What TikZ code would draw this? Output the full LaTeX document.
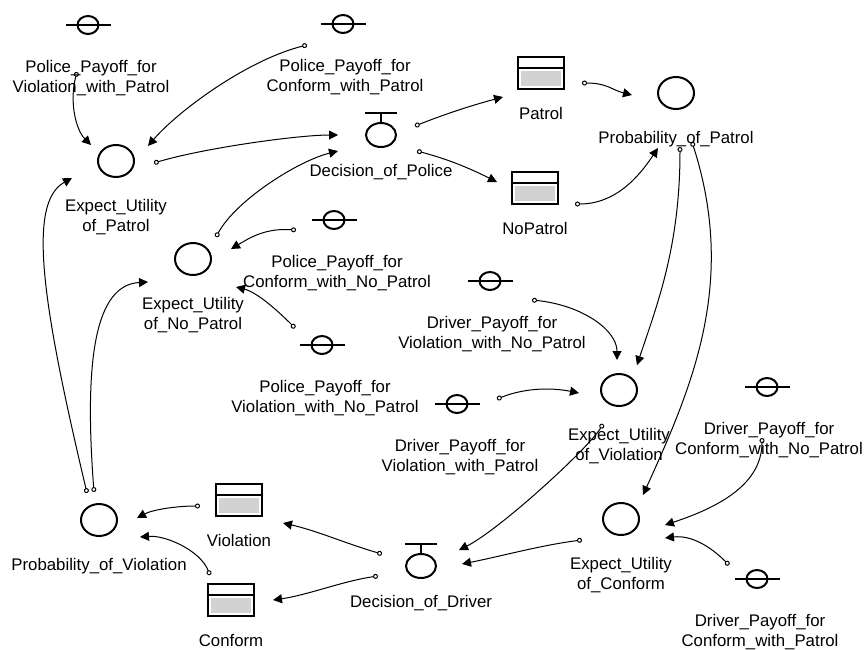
\documentclass[tikz,border=0pt]{standalone}
\usepackage{fontspec}
\setmainfont{Liberation Sans}
\usetikzlibrary{arrows.meta,positioning,shapes.geometric}

\tikzset{
  txt/.style={align=center, inner sep=0pt, font=\fontsize{16.8}{20.5}\selectfont},
  aux/.style={ellipse, draw, line width=2pt, minimum width=36pt, minimum height=32pt, inner sep=0pt},
  const/.style={ellipse, draw, line width=2pt, minimum width=21pt, minimum height=18pt, inner sep=0pt},
  decision/.style={ellipse, draw, line width=2pt, minimum width=30pt, minimum height=24pt, inner sep=0pt},
  stock/.style={rectangle, draw, line width=2pt, minimum width=46pt, minimum height=32pt, inner sep=0pt,
    path picture={
      \fill[gray!35] ([shift={(3pt,-14pt)}]path picture bounding box.north west) rectangle ([shift={(-3pt,3pt)}]path picture bounding box.south east);
      \draw[line width=2pt] ([yshift=-11pt]path picture bounding box.north west) -- ([yshift=-11pt]path picture bounding box.north east);
    }},
  link/.style={line width=1pt, {Circle[open,length=5pt,width=5pt]}-{Triangle[length=9pt,width=9pt]}},
}

\begin{document}
\begin{tikzpicture}[x=1pt, y=-1pt]
\useasboundingbox (0,0) rectangle (865,649);

% Constants

\node[const] (c1) at (88,25) {};
\node[const] (c2) at (343,24) {};
\node[const] (c3) at (334,220) {};
\node[const] (c4) at (322,345) {};
\node[const] (c5) at (490,281) {};
\node[const] (c6) at (457,404) {};
\node[const] (c7) at (767,387) {};
\node[const] (c8) at (757,579) {};

\foreach \c in {c1,c2,c3,c4,c5,c6,c7,c8}
  \draw[line width=2pt] ([xshift=-11pt]\c.west) -- ([xshift=11pt]\c.east);

\node[txt, below=25pt of c1, xshift=3pt] (c1l) {Police\_Payoff\_for\\Violation\_with\_Patrol};
\node[txt, below=25pt of c2, xshift=2pt] (c2l) {Police\_Payoff\_for\\Conform\_with\_Patrol};
\node[txt, below=25pt of c3, xshift=3pt] (c3l) {Police\_Payoff\_for\\Conform\_with\_No\_Patrol};
\node[txt, below=25pt of c4, xshift=3pt] (c4l) {Police\_Payoff\_for\\Violation\_with\_No\_Patrol};
\node[txt, below=25pt of c5, xshift=2pt] (c5l) {Driver\_Payoff\_for\\Violation\_with\_No\_Patrol};
\node[txt, below=25pt of c6, xshift=3pt] (c6l) {Driver\_Payoff\_for\\Violation\_with\_Patrol};
\node[txt, below=25pt of c7, xshift=2pt] (c7l) {Driver\_Payoff\_for\\Conform\_with\_No\_Patrol};
\node[txt, below=25pt of c8, xshift=3pt] (c8l) {Driver\_Payoff\_for\\Conform\_with\_Patrol};

% Auxiliaries

\node[aux] (a1) at (116,161) {};
\node[aux] (a2) at (193,259) {};
\node[aux] (pp) at (676,93) {};
\node[aux] (euv) at (619,390) {};
\node[aux] (euc) at (621,519) {};
\node[aux] (pv) at (99,520) {};

\node[txt, below=21pt of a1] (a1l) {Expect\_Utility\\of\_Patrol};
\node[txt, below=21pt of a2] (a2l) {Expect\_Utility\\of\_No\_Patrol};
\node[txt, below=21pt of pp] (ppl) {Probability\_of\_Patrol};
\node[txt, below=21pt of euv] (euvl) {Expect\_Utility\\of\_Violation};
\node[txt, below=21pt of euc] (eucl) {Expect\_Utility\\of\_Conform};
\node[txt, below=21pt of pv] (pvl) {Probability\_of\_Violation};

% Decisions

\node[decision] (dp) at (381,135) {};
\node[decision] (dd) at (421,566) {};

\foreach \d in {dp,dd} {
  \draw[line width=2pt] ([shift={(-16pt,9pt)}]\d.north) -- ([shift={(16pt,9pt)}]\d.north);
  \draw[line width=1.5pt] (\d.north) -- ([yshift=9pt]\d.north);
}

\node[txt, below=16pt of dp] (dpl) {Decision\_of\_Police};
\node[txt, below=16pt of dd] (ddl) {Decision\_of\_Driver};

% Stocks

\node[stock] (patrol) at (541,73) {};
\node[stock] (nopatrol) at (535,188) {};
\node[stock] (violation) at (239,500) {};
\node[stock] (conform) at (231,600) {};

\node[txt, below=17pt of patrol] (patroll) {Patrol};
\node[txt, below=17pt of nopatrol] (nopatroll) {NoPatrol};
\node[txt, below=17pt of violation] (violationl) {Violation};
\node[txt, below=17pt of conform] (conforml) {Conform};

% Links

\draw[link] ([shift={(-11,47)}]c1.center) .. controls +(-8,30) and +(-15,-15) .. ([shift={(-25,-16)}]a1.center);
\draw[link] ([shift={(-36,21)}]c2.center) .. controls +(-60,15) and +(30,-35) .. ([shift={(32,-15)}]a1.center);
\draw[link] ([shift={(38,2)}]a1.center) .. controls +(50,-15) and +(-40,0) .. ([shift={(-43,0)}]dp.center);
\draw[link] ([shift={(23,-22)}]a2.center) .. controls +(20,-37) and +(-40,10) .. ([shift={(-43,16)}]dp.center);
\draw[link] ([shift={(34,-9)}]dp.center) .. controls +(30,-12) and +(-30,8) .. ([shift={(-38,24)}]patrol.center);
\draw[link] ([shift={(36,16)}]dp.center) .. controls +(30,8) and +(-30,-15) .. ([shift={(-38,-6)}]nopatrol.center);
\draw[link] ([shift={(41,10)}]patrol.center) .. controls +(25,0) and +(-20,-5) .. ([shift={(-44,2)}]pp.center);
\draw[link] ([shift={(40,16)}]nopatrol.center) .. controls +(40,0) and +(-20,30) .. ([shift={(-18,55)}]pp.center);
\draw[link] ([shift={(4,54)}]pp.center) .. controls +(0,100) and +(20,-60) .. ([shift={(18,-25)}]euv.center);
\draw[link] ([shift={(16,49)}]pp.center) .. controls +(45,140) and +(50,-110) .. ([shift={(22,-24)}]euc.center);
\draw[link] ([shift={(-16,34)}]euv.center) .. controls +(-15,25) and +(40,-20) .. ([shift={(38,-16)}]dd.center);
\draw[link] ([shift={(-39,21)}]euc.center) .. controls +(-40,5) and +(40,-8) .. ([shift={(41,-2)}]dd.center);
\draw[link] ([shift={(-39,-12)}]dd.center) .. controls +(-35,-10) and +(35,8) .. ([shift={(44,23)}]violation.center);
\draw[link] ([shift={(-43,10)}]dd.center) .. controls +(-35,5) and +(35,-5) .. ([shift={(42,0)}]conform.center);
\draw[link] ([shift={(-39,6)}]violation.center) .. controls +(-25,0) and +(15,-8) .. ([shift={(38,-2)}]pv.center);
\draw[link] ([shift={(-21,-25)}]conform.center) .. controls +(-10,-25) and +(25,-2) .. ([shift={(41,17)}]pv.center);
\draw[link] ([shift={(-12,-27)}]pv.center) .. controls +(-45,-190) and +(-45,25) .. ([shift={(-44,17)}]a1.center);
\draw[link] ([shift={(-5,-28)}]pv.center) .. controls +(-10,-132) and +(-53,3) .. ([shift={(-45,23)}]a2.center);
\draw[link] ([shift={(-38,10)}]c3.center) .. controls +(-30,-2) and +(20,-12) .. ([shift={(38,-10)}]a2.center);
\draw[link] ([shift={(-27,-17)}]c4.center) .. controls +(-20,-20) and +(20,5) .. ([shift={(43,28)}]a2.center);
\draw[link] ([shift={(42,19)}]c5.center) .. controls +(50,5) and +(0,-30) .. ([shift={(-2,-30)}]euv.center);
\draw[link] ([shift={(40,-5)}]c6.center) .. controls +(30,-12) and +(-25,-5) .. ([shift={(-40,3)}]euv.center);
\draw[link] ([shift={(-5,51)}]c7.center) .. controls +(0,50) and +(45,-15) .. ([shift={(44,6)}]euc.center);
\draw[link] ([shift={(-28,-14)}]c8.center) .. controls +(-20,-20) and +(25,-3) .. ([shift={(44,19)}]euc.center);

\end{tikzpicture}
\end{document}
